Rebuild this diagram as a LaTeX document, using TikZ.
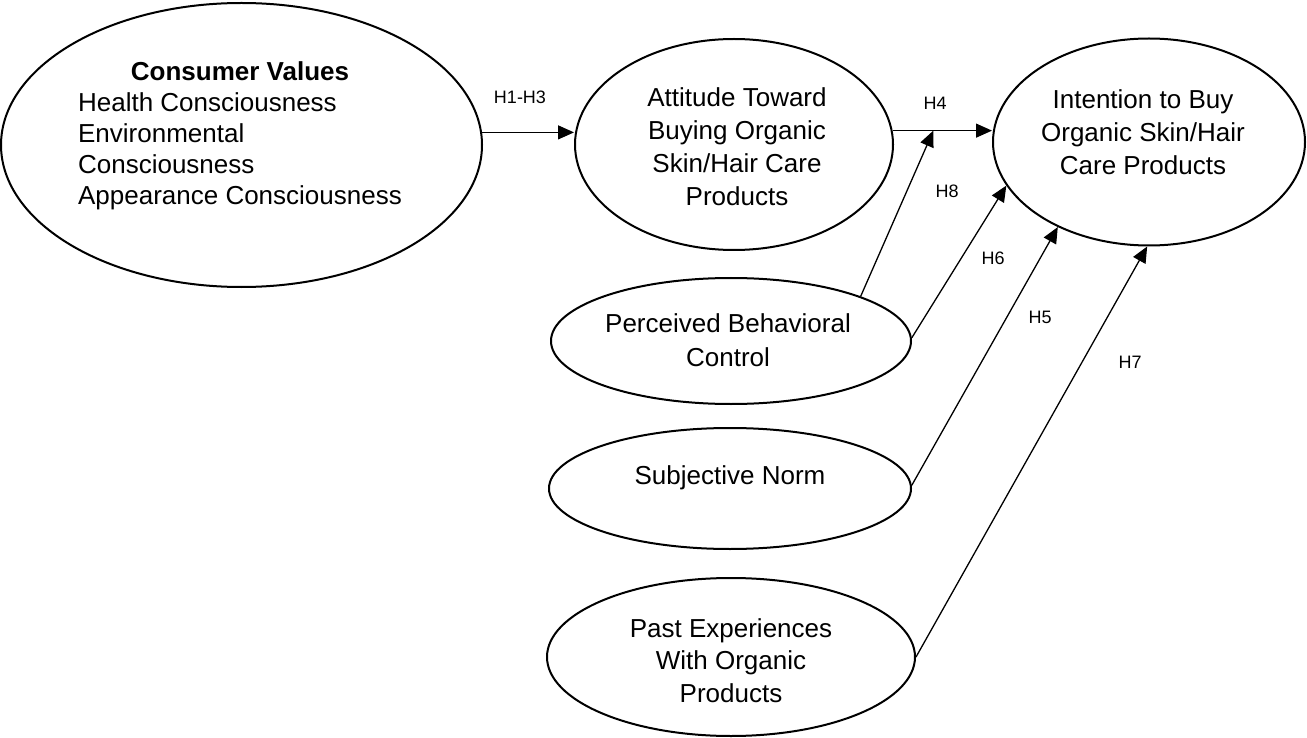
\documentclass[tikz,border=0pt]{standalone}
\usepackage{fontspec}
\setmainfont{Liberation Sans}
\usetikzlibrary{arrows.meta,shapes.geometric}
\tikzset{
  oval/.style={draw, ellipse, line width=2pt, inner sep=0pt},
  txt/.style={align=center, font=\fontsize{26}{33}\selectfont, inner sep=0pt},
  hlab/.style={font=\fontsize{18}{20}\selectfont, inner sep=0pt},
  arr/.style={line width=1.3pt, -{Triangle[length=16pt,width=14pt]}},
}
\begin{document}
\begin{tikzpicture}[x=1pt,y=-1pt]
\useasboundingbox (0,0) rectangle (1307,738);
% ellipses
\node[oval, minimum width=481pt, minimum height=284pt] (cv) at (241.5,145) {};
\node[oval, minimum width=318pt, minimum height=211pt] (att) at (734,144.5) {};
\node[oval, minimum width=312pt, minimum height=207pt] (int) at (1149,142) {};
\node[oval, minimum width=360pt, minimum height=126pt] (pbc) at (731,341) {};
\node[oval, minimum width=362pt, minimum height=121pt] (sn) at (730,488.5) {};
\node[oval, minimum width=368pt, minimum height=158pt] (pe) at (731,657) {};
% texts
\node[inner sep=0pt, font=\fontsize{26}{31}\selectfont] (cvtext) at (240,136)
  {\begin{tabular}{@{}l@{}}\multicolumn{1}{@{}c@{}}{\textbf{Consumer Values}}\\
   Health Consciousness\\ Environmental\\ Consciousness\\ Appearance Consciousness\end{tabular}};
\node[txt] (atttext) at (737,147) {Attitude Toward\\Buying Organic\\Skin/Hair Care\\Products};
\node[txt] (inttext) at (1143,132.5) {Intention to Buy\\Organic Skin/Hair\\Care Products};
\node[txt, font=\fontsize{26}{34}\selectfont] (pbctext) at (728,340) {Perceived Behavioral\\Control};
\node[txt] (sntext) at (730,478) {Subjective Norm};
\node[txt, font=\fontsize{26}{32.5}\selectfont] (petext) at (731,660.5) {Past Experiences\\With Organic\\Products};
% connectors
\draw[arr] (cv.3.35) -- (cv.3.35 -| att.west);
\draw[arr] (att.5.26) -- coordinate[pos=0.41] (h8t) (att.5.26 -| int.west);
\draw[arr] (pbc.19.9) -- (h8t);
\draw[arr] (pbc.1) -- (int.197.96);
\draw[arr] (sn.1.1) -- (int.223.7);
\draw[arr] (pe.0.6) -- (int.269.5);
% labels
\node[hlab] (l13) at (520,97) {H1-H3};
\node[hlab] (l4) at (935,103) {H4};
\node[hlab] (l8) at (947,191) {H8};
\node[hlab] (l6) at (993,258) {H6};
\node[hlab] (l5) at (1040,317) {H5};
\node[hlab] (l7) at (1130,362) {H7};
\end{tikzpicture}
\end{document}
